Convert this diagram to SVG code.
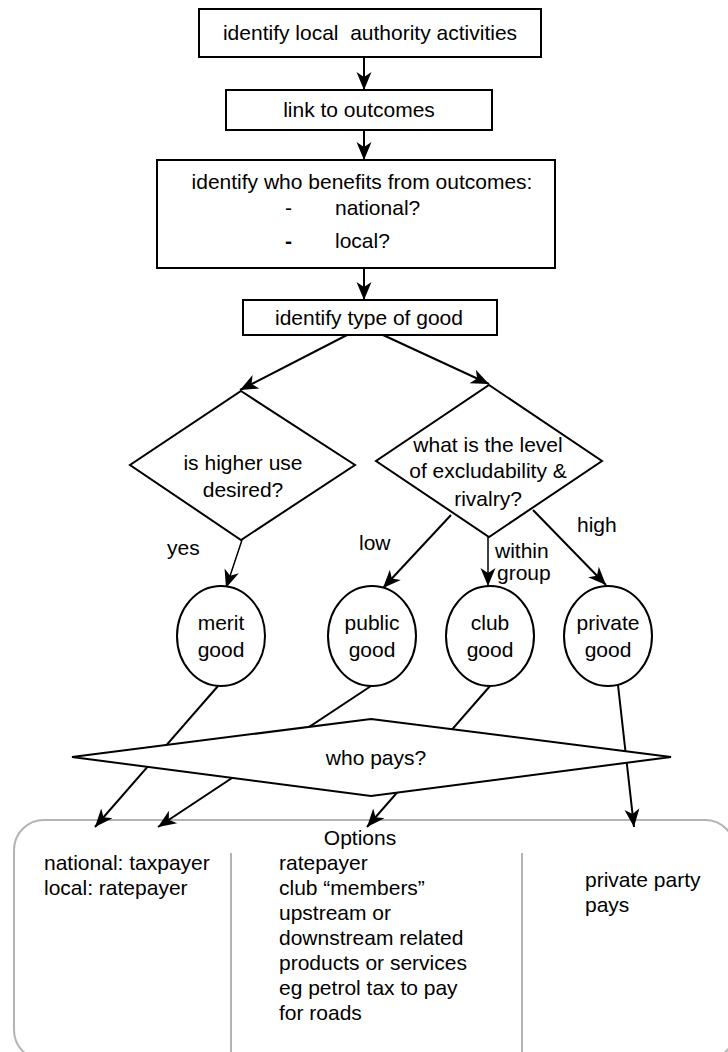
<svg xmlns="http://www.w3.org/2000/svg" width="728" height="1052" viewBox="0 0 728 1052">
<style>
text{font-family:"Liberation Sans",Arial,sans-serif;font-size:21px;fill:#000;white-space:pre}
.n{fill:#fff;stroke:#000;stroke-width:2}
.c{fill:none;stroke:#000;stroke-width:2;marker-end:url(#ah)}
.t{fill:none;stroke:#000;stroke-width:1.5;marker-end:url(#ah)}
.g{fill:none;stroke:#b3b3b3;stroke-width:2}
.m{text-anchor:middle}
</style>
<defs>
<marker id="ah" viewBox="-20 -10 22 20" refX="0" refY="0" markerWidth="22" markerHeight="20" markerUnits="userSpaceOnUse" orient="auto">
<path d="M0,0 L-18,-7.5 L-13,0 L-18,7.5 Z" fill="#000"/>
</marker>
</defs>
<rect width="728" height="1052" fill="#fff"/>
<g id="options">
<rect class="g" x="14" y="820" width="721" height="240" rx="30"/>
<line class="g" x1="231" y1="853" x2="231" y2="1052"/>
<line class="g" x1="522" y1="853" x2="522" y2="1052"/>
<text class="m" x="360" y="845">Options</text>
<text x="44" y="870">national: taxpayer</text>
<text x="44" y="895">local: ratepayer</text>
<text x="279" y="870">ratepayer</text>
<text x="279" y="895">club “members”</text>
<text x="279" y="920">upstream or</text>
<text x="279" y="945">downstream related</text>
<text x="279" y="970">products or services</text>
<text x="279" y="995">eg petrol tax to pay</text>
<text x="279" y="1020">for roads</text>
<text x="585" y="887">private party</text>
<text x="585" y="912">pays</text>
</g>
<g id="connectors">
<line class="c" x1="364" y1="57" x2="364" y2="90"/>
<line class="c" x1="364" y1="130" x2="364" y2="160"/>
<line class="c" x1="364" y1="268" x2="364" y2="300"/>
<line class="c" x1="347" y1="335" x2="240" y2="390"/>
<line class="c" x1="383" y1="335" x2="489" y2="384"/>
<line class="t" x1="242" y1="540" x2="226" y2="588"/>
<line class="c" x1="451" y1="515" x2="383" y2="588"/>
<line class="t" x1="488" y1="537" x2="488" y2="586"/>
<line class="c" x1="533" y1="510" x2="606" y2="585"/>
<line class="c" x1="218" y1="686" x2="95" y2="827"/>
<line class="c" x1="371" y1="686" x2="158" y2="827"/>
<line class="c" x1="490" y1="686" x2="367" y2="827"/>
<line class="c" x1="618" y1="685" x2="634" y2="827"/>
<text x="167" y="555">yes</text>
<text x="359" y="550">low</text>
<text x="495" y="558">within</text>
<text x="497" y="580">group</text>
<text x="577" y="532">high</text>
</g>
<g id="activities">
<rect class="n" x="199" y="9" width="342" height="48"/>
<text class="m" x="370" y="40" xml:space="preserve">identify local  authority activities</text>
</g>
<g id="outcomes">
<rect class="n" x="226" y="90" width="266" height="40"/>
<text class="m" x="359" y="117">link to outcomes</text>
</g>
<g id="benefits">
<rect class="n" x="157" y="160" width="398" height="108"/>
<text class="m" x="362" y="189">identify who benefits from outcomes:</text>
<text x="285" y="215">-</text>
<text x="335" y="215">national?</text>
<text x="285" y="248" font-weight="bold">-</text>
<text x="335" y="248">local?</text>
</g>
<g id="typeofgood">
<rect class="n" x="243" y="300" width="254" height="35"/>
<text class="m" x="369" y="325">identify type of good</text>
</g>
<g id="higheruse">
<polygon class="n" points="241,391 355,465 241,540 130,465"/>
<text class="m" x="243" y="470">is higher use</text>
<text class="m" x="243" y="497">desired?</text>
</g>
<g id="excludability">
<polygon class="n" points="489,385 602,461 489,537 376,461"/>
<text class="m" x="488" y="452">what is the level</text>
<text class="m" x="488" y="478">of excludability &amp;</text>
<text class="m" x="488" y="506">rivalry?</text>
</g>
<g id="merit">
<ellipse class="n" cx="221" cy="636" rx="44" ry="50"/>
<text class="m" x="221" y="630">merit</text>
<text class="m" x="221" y="657">good</text>
</g>
<g id="public">
<ellipse class="n" cx="372" cy="636" rx="44" ry="50"/>
<text class="m" x="372" y="630">public</text>
<text class="m" x="372" y="657">good</text>
</g>
<g id="club">
<ellipse class="n" cx="490" cy="636" rx="44" ry="50"/>
<text class="m" x="490" y="630">club</text>
<text class="m" x="490" y="657">good</text>
</g>
<g id="private">
<ellipse class="n" cx="608" cy="636" rx="44" ry="50"/>
<text class="m" x="608" y="630">private</text>
<text class="m" x="608" y="657">good</text>
</g>
<g id="whopays">
<polygon class="n" points="371,719 671,757 371,796 72,757"/>
<text class="m" x="376" y="765">who pays?</text>
</g>
</svg>
